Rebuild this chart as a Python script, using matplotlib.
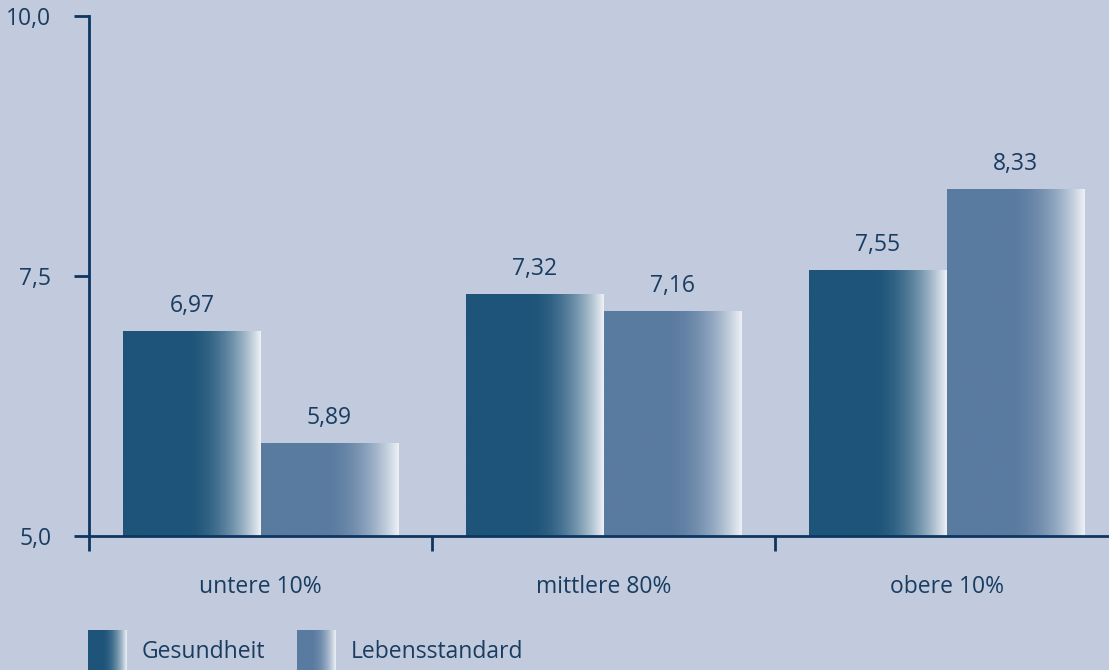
import numpy as np
import matplotlib
matplotlib.use("Agg")
import matplotlib.pyplot as plt
from matplotlib.colors import to_rgb

plt.rcParams['font.family'] = ['Open Sans', 'DejaVu Sans']

# data
groups = ['untere 10%', 'mittlere 80%', 'obere 10%']
gesundheit = [6.97, 7.32, 7.55]
lebensstandard = [5.89, 7.16, 8.33]
series_names = ['Gesundheit', 'Lebensstandard']
yticks = [5.0, 7.5, 10.0]

bg = '#c1cbdd'
navy = '#0e3661'
txt = '#1a3c60'
colors = ['#1e5479', '#5a7ba0']
fs = 16.5


def gradient_img(color, n=256, solid=0.45):
    # solid colour on the left part, fading to almost white at the right edge
    c = np.array(to_rgb(color))
    w = np.array(to_rgb('#eef1f6'))
    t = np.linspace(0, 1, n)
    m = np.clip((t - solid) / (1 - solid), 0, 1) ** 2
    img = c[None, :] * (1 - m[:, None]) + w[None, :] * m[:, None]
    return img[None, :, :]


fig = plt.figure(figsize=(11.09, 6.70), dpi=100)
fig.patch.set_facecolor(bg)

ax = fig.add_axes([89 / 1109, 134 / 670, 1029 / 1109, 520 / 670])
ax.set_facecolor(bg)
ax.set_xlim(-0.5, 2.5)
ax.set_ylim(5.0, 10.0)

bw = 0.4
x = np.arange(len(groups))
for k, vals in enumerate([gesundheit, lebensstandard]):
    for i, v in enumerate(vals):
        x0 = x[i] - bw + k * bw
        ax.imshow(gradient_img(colors[k]), extent=[x0, x0 + bw, 5.0, v],
                  aspect='auto', interpolation='bilinear', zorder=2)
        ax.text(x0 + bw / 2, v + 0.13, f'{v:.2f}'.replace('.', ','),
                ha='center', va='bottom', fontsize=fs, color=txt)

for s in ['top', 'right']:
    ax.spines[s].set_visible(False)
for s in ['left', 'bottom']:
    ax.spines[s].set_color(navy)
    ax.spines[s].set_linewidth(2)
ax.spines['left'].set_zorder(5)
ax.spines['bottom'].set_zorder(5)

ax.set_yticks(yticks)
ax.set_yticklabels([f'{t:.1f}'.replace('.', ',') for t in yticks])
ax.set_xticks([-0.5, 0.5, 1.5])
ax.set_xticklabels([])
ax.tick_params(axis='both', direction='out', length=11, width=2, color=navy,
               labelsize=fs, labelcolor=txt)
ax.tick_params(axis='y', pad=16)
for i, g in enumerate(groups):
    ax.text(x[i], 4.51, g, ha='center', va='center', fontsize=fs, color=txt)

# legend drawn in figure pixels
lax = fig.add_axes([0, 0, 1, 1])
lax.axis('off')
lax.patch.set_alpha(0)
for k, (name, xp) in enumerate(zip(series_names, [88, 297])):
    lax.imshow(gradient_img(colors[k], solid=0.35), extent=[xp, xp + 39, 670, 630],
               aspect='auto', interpolation='bilinear')
    lax.text(xp + 54, 652, name, ha='left', va='center', fontsize=fs, color=txt)
lax.set_xlim(0, 1109)
lax.set_ylim(670, 0)

fig.savefig('out.png', dpi=100, facecolor=bg)
